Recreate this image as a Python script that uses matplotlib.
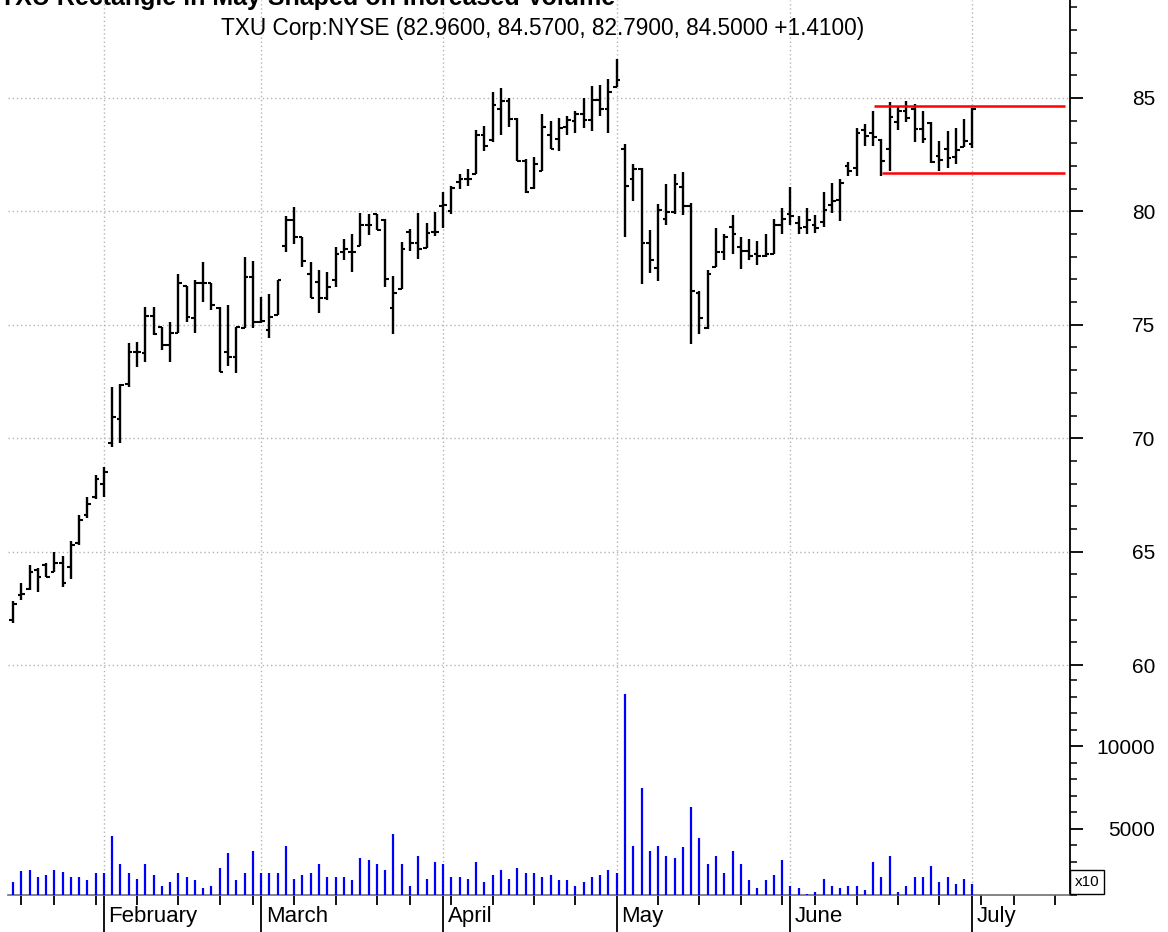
import matplotlib
matplotlib.use('Agg')
import matplotlib.pyplot as plt
from matplotlib.ticker import MultipleLocator, FixedLocator
from matplotlib.transforms import blended_transform_factory
import numpy as np
import pandas as pd

plt.rcParams['font.family'] = ['Liberation Sans', 'DejaVu Sans']

# trading days, Jan 14 2005 .. Jul 1 2005 (plus empty days to the right edge)
holidays = ['2005-01-17', '2005-02-21', '2005-03-25', '2005-05-30', '2005-07-04']
days = pd.bdate_range('2005-01-14', '2005-07-19')
days = days[~days.isin(pd.to_datetime(holidays))]

opens = [61.99, 63.07, 63.36, 64.20, 64.40, 64.10, 64.50, 64.30, 65.40, 66.60,
         67.40, 68.00, 69.80, 70.83, 72.40, 73.80, 73.77, 75.38, 74.90, 74.10,
         74.65, 76.70, 75.30, 76.86, 76.86, 75.75, 73.81, 73.59, 74.87, 77.09,
         75.13, 74.77, 75.43, 78.47, 79.61, 78.88, 77.26, 76.90, 76.16, 76.97,
         78.20, 78.22, 78.47, 79.39, 79.90, 79.60, 75.76, 76.57, 79.09, 78.62,
         78.40, 79.09, 80.23, 80.00, 81.29, 81.41, 81.67, 83.39, 83.16, 84.52,
         84.85, 84.08, 82.24, 81.04, 81.79, 83.39, 83.20, 83.70, 84.00, 84.31,
         84.05, 84.93, 84.52, 85.48, 82.76, 81.41, 81.88, 78.62, 77.52, 79.65,
         79.97, 81.08, 80.22, 76.40, 74.84, 77.55, 78.20, 79.31, 78.44, 78.27,
         78.10, 78.05, 78.13, 79.42, 79.88, 79.50, 79.30, 79.40, 79.55, 80.30,
         80.50, 82.02, 81.90, 83.59, 83.44, 83.15, 82.75, 83.93, 84.41, 84.50,
         83.63, 83.90, 82.46, 82.75, 82.40, 82.85, 82.96]
highs = [62.81, 63.61, 64.42, 64.28, 64.52, 65.00, 64.81, 65.46, 66.60, 67.40,
         68.40, 68.75, 72.27, 72.40, 74.18, 74.25, 75.79, 75.79, 74.90, 75.13,
         77.26, 76.70, 76.97, 77.75, 76.86, 75.79, 75.87, 74.90, 78.00, 77.82,
         76.23, 76.38, 76.97, 79.79, 80.20, 78.88, 77.78, 77.40, 77.33, 78.44,
         78.80, 79.02, 79.95, 79.90, 79.90, 79.68, 77.16, 78.65, 79.21, 79.91,
         79.50, 79.97, 80.85, 81.11, 81.67, 81.85, 83.58, 83.78, 85.25, 85.44,
         85.00, 84.12, 82.29, 82.40, 84.30, 83.97, 84.12, 84.19, 84.41, 85.00,
         85.51, 85.59, 85.84, 86.72, 82.95, 82.07, 81.92, 79.18, 80.31, 81.19,
         81.67, 81.73, 80.36, 76.47, 77.41, 79.28, 79.02, 79.83, 78.88, 78.78,
         78.70, 79.02, 79.68, 80.14, 81.08, 79.78, 80.17, 79.86, 80.84, 81.27,
         81.41, 82.19, 83.67, 83.85, 84.41, 83.19, 84.81, 84.62, 84.85, 84.74,
         84.44, 83.93, 83.12, 83.53, 83.68, 84.07, 84.57]
lows = [61.84, 62.88, 63.29, 63.22, 63.87, 64.09, 63.46, 63.80, 65.30, 66.50,
        67.30, 67.40, 69.60, 69.77, 72.27, 73.15, 73.37, 74.55, 73.88, 73.37,
        74.62, 75.13, 74.62, 76.01, 75.65, 72.93, 73.18, 72.86, 74.84, 74.84,
        75.06, 74.40, 75.43, 78.22, 78.58, 77.55, 76.16, 75.50, 76.09, 76.67,
        77.85, 77.33, 78.47, 78.95, 79.17, 76.67, 74.59, 76.57, 78.26, 77.92,
        78.40, 78.92, 79.28, 79.87, 80.97, 81.11, 81.67, 82.65, 83.05, 83.39,
        83.72, 82.24, 80.82, 80.97, 81.79, 82.73, 82.65, 83.39, 83.46, 83.68,
        83.53, 84.19, 83.46, 85.48, 78.89, 80.45, 76.79, 77.30, 76.94, 79.38,
        79.87, 79.86, 74.16, 74.60, 74.81, 77.55, 77.87, 78.10, 77.48, 77.87,
        77.62, 77.98, 78.13, 78.99, 79.39, 78.99, 78.99, 79.06, 79.31, 79.93,
        79.57, 81.56, 81.56, 82.90, 82.90, 81.57, 81.76, 83.59, 83.93, 83.04,
        83.00, 82.12, 81.76, 81.91, 82.09, 82.82, 82.79]
closes = [62.68, 63.14, 64.09, 63.87, 63.90, 64.48, 63.60, 65.30, 66.40, 67.10,
          68.20, 68.50, 70.95, 72.35, 73.80, 73.80, 75.38, 74.60, 74.10, 74.65,
          76.86, 75.35, 76.86, 76.86, 75.87, 72.93, 73.59, 74.90, 77.09, 75.13,
          75.16, 75.35, 76.97, 79.61, 78.88, 77.82, 76.16, 76.16, 76.67, 78.14,
          78.36, 78.22, 79.39, 79.39, 79.20, 77.00, 76.42, 78.36, 78.62, 78.36,
          79.03, 79.09, 80.30, 81.04, 81.41, 81.41, 83.39, 82.87, 84.71, 84.85,
          84.08, 82.24, 80.85, 82.07, 83.72, 82.73, 83.68, 84.05, 84.31, 84.05,
          84.93, 84.52, 85.25, 85.81, 81.11, 81.88, 78.62, 77.86, 80.06, 79.97,
          81.19, 80.22, 76.51, 75.32, 77.26, 78.20, 78.85, 78.99, 78.27, 78.05,
          78.05, 78.10, 79.42, 79.68, 79.78, 79.25, 79.60, 79.25, 80.07, 80.46,
          81.27, 81.80, 83.46, 83.34, 83.26, 82.21, 84.15, 84.41, 84.12, 83.63,
          83.19, 82.16, 82.26, 82.35, 82.71, 83.09, 84.50]
# volume in units of 10 shares
volume = [1770, 2440, 2540, 2100, 2220, 2540, 2420, 2100, 2100, 1880,
          2320, 2320, 4560, 2880, 2320, 1980, 2880, 2200, 1530, 1770,
          2320, 2100, 1880, 1410, 1530, 2640, 3550, 1880, 2320, 3650,
          2320, 2320, 2320, 3990, 1980, 2200, 2320, 2880, 2100, 2100,
          2100, 1880, 3210, 3110, 2880, 2540, 4660, 2880, 1530, 3330,
          1980, 2980, 2880, 2100, 2100, 1980, 2980, 1770, 2200, 2540,
          1980, 2640, 2320, 2320, 2100, 2200, 1880, 1880, 1530, 1770,
          2100, 2220, 2540, 2320, 13170, 3990, 7460, 3670, 3990, 3330,
          3210, 3890, 6350, 4440, 2880, 3330, 2320, 3670, 2880, 1880,
          1410, 1880, 2220, 3110, 1530, 1410, 1090, 1210, 1980, 1530,
          1410, 1530, 1530, 1310, 2980, 2100, 3330, 1210, 1530, 2100,
          2100, 2760, 1770, 2100, 1650, 1980, 1650]

title = 'TXU Rectangle in May Shaped on Increased Volume'
subtitle = 'TXU Corp:NYSE (82.9600, 84.5700, 82.7900, 84.5000 +1.4100)'
rect_top, rect_bottom = 84.65, 81.71
rect_top_start, rect_bottom_start, rect_end = 104.1, 105.1, 127.2

n = len(closes)
x = np.arange(n)
month_idx = [i for i in range(1, n) if days[i].month != days[i - 1].month]
week_idx = [i for i in range(1, len(days)) if days[i].weekday() <= days[i - 1].weekday()]

W, H = 1168, 932
fig = plt.figure(figsize=(W / 100, H / 100), dpi=100)
left, right = 8 / W, 1070 / W
ax = fig.add_axes([left, (H - 680) / H, right - left, 680 / H])
axv = fig.add_axes([left, (H - 895) / H, right - left, 215 / H], sharex=ax)

grid_kw = dict(color='#b4b4b4', lw=1, linestyle=(0, (1, 2)), zorder=0)

# price bars
ax.vlines(x, lows, highs, color='black', lw=1.7, zorder=3)
ax.hlines(opens, x - 0.45, x, color='black', lw=1.5, zorder=3)
ax.hlines(closes, x, x + 0.45, color='black', lw=1.5, zorder=3)
ax.hlines(rect_top, rect_top_start, rect_end, color='#ff0000', lw=1.8, zorder=4)
ax.hlines(rect_bottom, rect_bottom_start, rect_end, color='#ff0000', lw=1.8, zorder=4)

ax.set_xlim(-0.6, 127.8)
ax.set_ylim(59.34, 89.32)
for p in range(60, 90, 5):
    ax.axhline(p, **grid_kw)
for m in month_idx:
    ax.axvline(m, **grid_kw)
    axv.axvline(m, **grid_kw)

# volume
axv.vlines(x, 0, volume, color='#0000ff', lw=1.6, zorder=3)
axv.set_ylim(1000, 14000)

for a in (ax, axv):
    a.spines['top'].set_visible(False)
    a.spines['left'].set_visible(False)
    a.spines['right'].set_linewidth(1.3)
    a.yaxis.tick_right()
    a.tick_params(axis='y', which='major', direction='out', length=9.5, width=1.3,
                  labelsize=15, pad=52)
    a.tick_params(axis='y', which='minor', direction='out', length=5, width=1.1)
ax.spines['bottom'].set_visible(False)
ax.tick_params(axis='x', which='both', bottom=False, labelbottom=False)
ax.set_yticks(range(60, 90, 5))
ax.yaxis.set_minor_locator(MultipleLocator(1))
for lab in ax.get_yticklabels():
    lab.set_horizontalalignment('right')

axv.set_yticks([5000, 10000])
axv.yaxis.set_minor_locator(MultipleLocator(1000))
for lab in axv.get_yticklabels():
    lab.set_horizontalalignment('right')
axv.spines['bottom'].set_color('#707070')
axv.spines['bottom'].set_linewidth(1.2)

axv.xaxis.set_major_locator(FixedLocator(month_idx))
axv.xaxis.set_minor_locator(FixedLocator([w for w in week_idx if w not in month_idx]))
axv.tick_params(axis='x', which='major', direction='out', length=27, width=1.3,
                labelbottom=False)
axv.tick_params(axis='x', which='minor', direction='out', length=7, width=1.3)

tr = blended_transform_factory(axv.transData, axv.transAxes)
for m in month_idx:
    axv.text(m + 0.55, -0.098, days[m].strftime('%B'), transform=tr,
             ha='left', va='center', fontsize=16)

fig.text(1075 / W, 1 - 882 / H, 'x10', ha='left', va='center', fontsize=11,
         bbox=dict(boxstyle='square,pad=0.3', fc='white', ec='black', lw=1))
fig.text(543 / W, 1 - 29 / H, subtitle, ha='center', va='center', fontsize=16.3)
# heading sits mostly above the top edge, as in the source image
fig.text(0 / W, 1 - 5 / H, title, ha='left', va='baseline', fontsize=18,
         fontweight='bold')

fig.savefig('out.png', dpi=100)
